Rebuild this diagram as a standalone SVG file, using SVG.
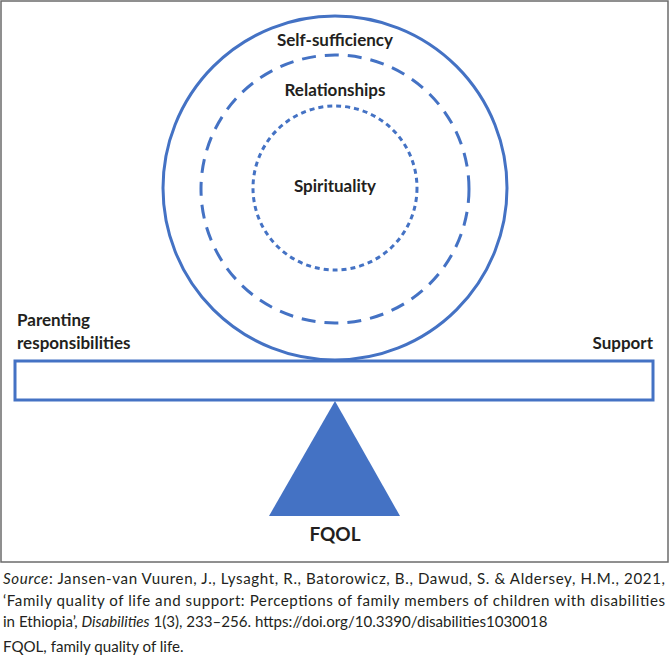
<svg xmlns="http://www.w3.org/2000/svg" width="670" height="657" viewBox="0 0 670 657">
<style>
.lbl{font-family:Lato,"Open Sans","Liberation Sans",sans-serif;font-weight:bold;font-size:17px;fill:#231f20}
.cap{font-family:Lato,"Open Sans","Liberation Sans",sans-serif;font-size:15.1px;fill:#231f20}
.blue{fill:none;stroke:#4472c4;stroke-width:3}
</style>
<rect x="1" y="1" width="667" height="561" fill="#fff" stroke="#6b6b6b" stroke-width="1.5"/>
<g id="outer-circle">
<circle class="blue" cx="335" cy="188" r="172"/>
<text class="lbl" x="335" y="46" text-anchor="middle">Self-sufficiency</text>
</g>
<g id="middle-circle">
<circle class="blue" cx="335" cy="189" r="134" stroke-dasharray="14 9"/>
<text class="lbl" x="335" y="96" text-anchor="middle">Relationships</text>
</g>
<g id="inner-circle">
<circle class="blue" cx="335" cy="188" r="82" stroke-dasharray="5 4"/>
<text class="lbl" x="335" y="192" text-anchor="middle">Spirituality</text>
</g>
<g id="bar">
<rect class="blue" x="15" y="361" width="638" height="39"/>
</g>
<g id="parenting">
<text class="lbl" x="17" y="326">Parenting</text>
<text class="lbl" x="17" y="349">responsibilities</text>
</g>
<g id="support">
<text class="lbl" x="653" y="349" text-anchor="end">Support</text>
</g>
<g id="fqol">
<polygon points="335,401 400,516 269,516" fill="#4472c4"/>
<text class="lbl" x="335" y="541" text-anchor="middle" style="font-size:19px">FQOL</text>
</g>
<g id="caption">
<text class="cap" x="3" y="584" textLength="662" lengthAdjust="spacing"><tspan font-style="italic">Source</tspan>: Jansen-van Vuuren, J., Lysaght, R., Batorowicz, B., Dawud, S. &amp; Aldersey, H.M., 2021,</text>
<text class="cap" x="3" y="606" textLength="662" lengthAdjust="spacing">‘Family quality of life and support: Perceptions of family members of children with disabilities</text>
<text class="cap" x="3" y="627">in Ethiopia’, <tspan font-style="italic">Disabilities</tspan> 1(3), 233–256. https://doi.org/10.3390/disabilities1030018</text>
<text class="cap" x="3" y="652">FQOL, family quality of life.</text>
</g>
</svg>
